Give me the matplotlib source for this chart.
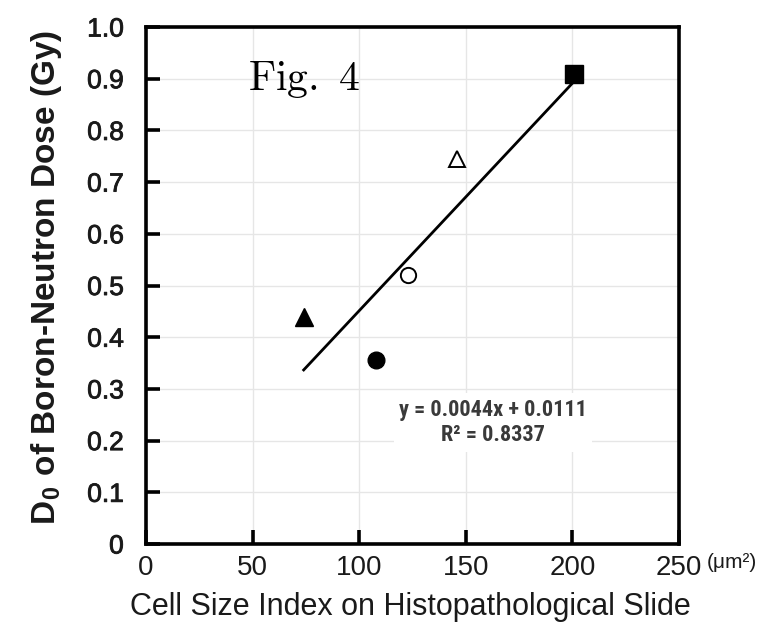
import matplotlib
matplotlib.use("Agg")
import matplotlib.pyplot as plt
import matplotlib.patheffects as pe
import numpy as np
from matplotlib import font_manager

names = {f.name for f in font_manager.fontManager.ttflist}
cond = "Roboto Condensed" if "Roboto Condensed" in names else "Liberation Sans"
cond_fam = [cond, "DejaVu Sans"]
reg_fam = ["Liberation Sans", "DejaVu Sans"]

# data
cell_size = [201, 146, 123, 74, 108]
d0 = [0.91, 0.745, 0.52, 0.44, 0.355]
markers = ["s", "^", "o", "^", "o"]
filled = [True, False, False, True, True]
slope, intercept = 0.0044, 0.0111
fit_x = [74, 201]
x_ticks = [0, 50, 100, 150, 200, 250]
y_ticks = [0, 0.1, 0.2, 0.3, 0.4, 0.5, 0.6, 0.7, 0.8, 0.9, 1.0]
y_ticklabels = ["0", "0.1", "0.2", "0.3", "0.4", "0.5", "0.6", "0.7", "0.8", "0.9", "1.0"]

plt.rcParams["mathtext.fontset"] = "cm"

fig = plt.figure(figsize=(7.68, 6.24), dpi=100)
ax = fig.add_axes([0.190, 0.1282, 0.694, 0.8285])

ax.set_xlim(0, 250)
ax.set_ylim(0, 1.0)
ax.set_xticks(x_ticks)
ax.set_yticks(y_ticks)
ax.set_yticklabels(y_ticklabels)
ax.grid(True, color="#e6e6e6", linewidth=1.0)
ax.set_axisbelow(True)

for s in ax.spines.values():
    s.set_linewidth(2.6)
    s.set_color("black")
ax.tick_params(axis="both", direction="in", length=10, width=2.6, colors="black")
ax.tick_params(axis="y", pad=16)
ax.tick_params(axis="x", pad=8)
for lab in ax.get_yticklabels():
    lab.set_fontfamily(reg_fam)
    lab.set_fontsize(19)
    lab.set_color("#1a1a1a")
    lab.set_path_effects([pe.withStroke(linewidth=0.6, foreground="#1a1a1a")])
for lab in ax.get_xticklabels():
    lab.set_fontfamily(reg_fam)
    lab.set_fontsize(20)
    lab.set_color("#1a1a1a")

# trend line
fx = np.array(fit_x, dtype=float)
ax.plot(fx, slope * fx + intercept, color="black", linewidth=2.0, zorder=3)

sizes = {"s": 13, "^": 13, "o": 12}
for x, y, m, f in zip(cell_size, d0, markers, filled):
    if f:
        ax.plot(x, y, marker=m, markersize=sizes[m], color="black", linestyle="none", zorder=4)
    else:
        ax.plot(x, y, marker=m, markersize=sizes[m] - 1, markerfacecolor="white",
                markeredgecolor="black", markeredgewidth=1.4, linestyle="none", zorder=4)

ax.text(162.8, 0.2346, "y = 0.0044x + 0.0111\nR² = 0.8337", ha="center", va="center",
        fontsize=16, fontfamily=cond_fam, fontweight="bold", color="#3a3a3a", linespacing=1.2,
        bbox=dict(facecolor="white", edgecolor="none", pad=4), zorder=2)

ax.text(48, 0.9, r"$\mathrm{Fig.\ 4}$", fontsize=30, ha="left", va="center", zorder=5)

ax.set_xlabel("Cell Size Index on Histopathological Slide", fontsize=22, fontfamily=reg_fam,
              color="#1a1a1a", va="center", ha="center")
ax.xaxis.set_label_coords(0.497, (544 - 606.5) / 517)
ax.set_ylabel(r"D$_\mathregular{0}$ of Boron-Neutron Dose (Gy)", fontsize=24, fontweight="bold",
              fontfamily=reg_fam, color="#1a1a1a", va="center", ha="center")
ax.yaxis.set_label_coords(-0.186, 0.516)

fig.text(0.920, 1 - 563 / 624, "(μm²)", fontsize=15, fontfamily=reg_fam, ha="left", va="center",
         color="#1a1a1a")

fig.savefig("out.png", dpi=100)
